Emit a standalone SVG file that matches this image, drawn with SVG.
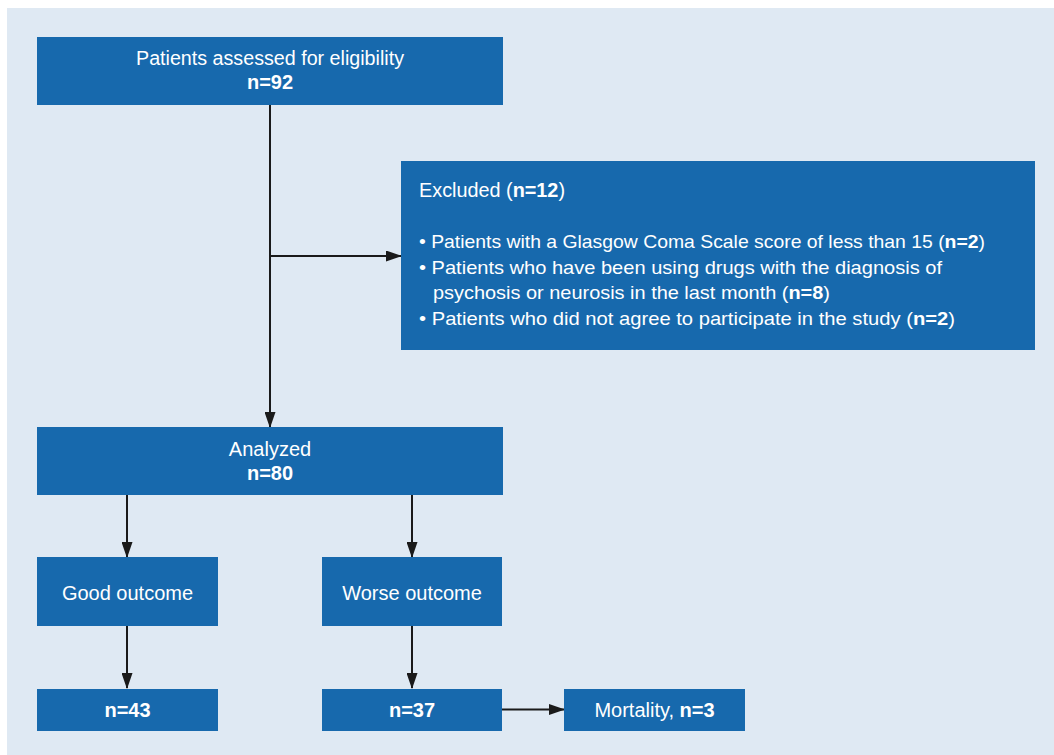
<svg xmlns="http://www.w3.org/2000/svg" width="1054" height="755" viewBox="0 0 1054 755">
<defs>
<marker id="ah" markerWidth="16" markerHeight="11" refX="15" refY="5.5" orient="auto" markerUnits="userSpaceOnUse">
<path d="M0,0 L16,5.5 L0,11 Z" fill="#1a1a1a"/>
</marker>
<style>
.box{fill:#1769ad}
.t{font-family:"Liberation Sans",Arial,sans-serif;font-size:20px;fill:#ffffff}
.s{font-size:18.5px}
.c{text-anchor:middle}
.b{font-weight:bold}
.ln{stroke:#1a1a1a;stroke-width:2;fill:none}
</style>
</defs>
<rect x="7" y="8" width="1047" height="747" fill="#dfe9f3"/>
<g id="connectors">
<line class="ln" x1="270" y1="105" x2="270" y2="427" marker-end="url(#ah)"/>
<line class="ln" x1="270" y1="256" x2="401" y2="256" marker-end="url(#ah)"/>
<line class="ln" x1="127" y1="495" x2="127" y2="557" marker-end="url(#ah)"/>
<line class="ln" x1="412" y1="495" x2="412" y2="557" marker-end="url(#ah)"/>
<line class="ln" x1="127" y1="626" x2="127" y2="688" marker-end="url(#ah)"/>
<line class="ln" x1="412" y1="626" x2="412" y2="688" marker-end="url(#ah)"/>
<line class="ln" x1="502" y1="709.5" x2="564" y2="709.5" marker-end="url(#ah)"/>
</g>
<g id="assessed">
<rect class="box" x="37" y="37" width="466" height="68"/>
<text class="t c" x="270" y="65" textLength="268" lengthAdjust="spacingAndGlyphs">Patients assessed for eligibility</text>
<text class="t c b" x="270" y="89">n=92</text>
</g>
<g id="excluded">
<rect class="box" x="401" y="161" width="634" height="189"/>
<text class="t" x="419" y="197" textLength="146" lengthAdjust="spacingAndGlyphs">Excluded (<tspan class="b">n=12</tspan>)</text>
<text class="t s" x="419" y="248" textLength="566" lengthAdjust="spacingAndGlyphs">• Patients with a Glasgow Coma Scale score of less than 15 (<tspan class="b">n=2</tspan>)</text>
<text class="t s" x="419" y="274" textLength="523" lengthAdjust="spacingAndGlyphs">• Patients who have been using drugs with the diagnosis of</text>
<text class="t s" x="433" y="299" textLength="397" lengthAdjust="spacingAndGlyphs">psychosis or neurosis in the last month (<tspan class="b">n=8</tspan>)</text>
<text class="t s" x="419" y="325" textLength="536" lengthAdjust="spacingAndGlyphs">• Patients who did not agree to participate in the study (<tspan class="b">n=2</tspan>)</text>
</g>
<g id="analyzed">
<rect class="box" x="37" y="427" width="466" height="68"/>
<text class="t c" x="270" y="456">Analyzed</text>
<text class="t c b" x="270" y="480">n=80</text>
</g>
<g id="good">
<rect class="box" x="37" y="557" width="181" height="69"/>
<text class="t c" x="127.5" y="600">Good outcome</text>
</g>
<g id="worse">
<rect class="box" x="322" y="557" width="180" height="69"/>
<text class="t c" x="412" y="600">Worse outcome</text>
</g>
<g id="n43">
<rect class="box" x="37" y="689" width="181" height="42"/>
<text class="t c b" x="127.5" y="717">n=43</text>
</g>
<g id="n37">
<rect class="box" x="322" y="689" width="180" height="42"/>
<text class="t c b" x="412" y="717">n=37</text>
</g>
<g id="mortality">
<rect class="box" x="564" y="689" width="181" height="42"/>
<text class="t c" x="654.5" y="717">Mortality, <tspan class="b">n=3</tspan></text>
</g>
</svg>
